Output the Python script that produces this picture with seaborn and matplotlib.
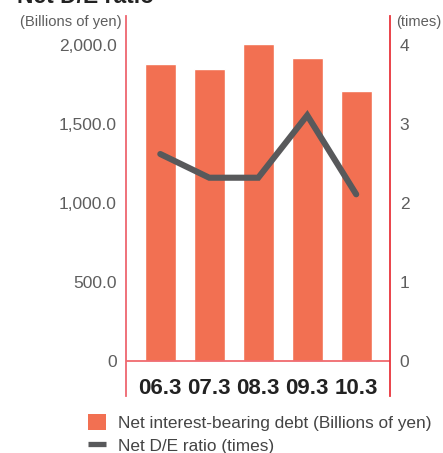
import matplotlib
matplotlib.use("Agg")
import matplotlib.pyplot as plt
import seaborn as sns
import pandas as pd
from matplotlib.patches import Patch
from matplotlib.lines import Line2D
from matplotlib.ticker import FuncFormatter

sns.set_style("white")
plt.rcParams['font.family'] = ['Liberation Sans', 'DejaVu Sans']

# Data
periods = ["06.3", "07.3", "08.3", "09.3", "10.3"]
debt = [1880, 1848, 2006, 1918, 1709]          # Billions of yen
de_ratio = [2.62, 2.32, 2.32, 3.11, 2.11]      # times
left_ticks = [0, 500, 1000, 1500, 2000]
right_ticks = [0, 1, 2, 3, 4]

bar_color = "#F27052"
line_color = "#58595B"
tick_color = "#5E5E5E"

df = pd.DataFrame({"period": periods, "debt": debt, "ratio": de_ratio})

W, H = 443, 453
fig = plt.figure(figsize=(W / 100, H / 100), dpi=100)
ax_l, ax_r, ax_t, ax_b = 126, 390, 16, 396
ax = fig.add_axes([ax_l / W, 1 - ax_b / H, (ax_r - ax_l) / W, (ax_b - ax_t) / H])

sns.barplot(data=df, x="period", y="debt", color=bar_color, width=0.63,
            saturation=1, ax=ax, zorder=2)

# y scale: 0 at px 361, 2000 at px 45
ppu = (361 - 45) / 2000.0
ylo = -(ax_b - 361) / ppu
yhi = 2000 + (45 - ax_t) / ppu
ax.set_ylim(ylo, yhi)
ax.set_xlim(-0.70, 4.69)

ax2 = ax.twinx()
sns.lineplot(x=list(range(len(periods))), y=de_ratio, color=line_color,
             linewidth=4.4, ax=ax2, zorder=3, solid_capstyle="round",
             solid_joinstyle="miter")
ax2.set_ylim(ylo / 500.0, yhi / 500.0)

ax.axhline(0, color="#F06A6E", linewidth=1.3, zorder=4)

for a in (ax, ax2):
    for s in ("top", "bottom"):
        a.spines[s].set_visible(False)
ax.spines["left"].set_color("#EE6670")
ax.spines["left"].set_linewidth(1.3)
ax.spines["right"].set_visible(False)
ax2.spines["left"].set_visible(False)
ax2.spines["right"].set_color("#E8343C")
ax2.spines["right"].set_linewidth(1.3)

ax.set_yticks(left_ticks)
ax.yaxis.set_major_formatter(FuncFormatter(lambda v, p: "0" if v == 0 else f"{v:,.1f}"))
ax.tick_params(axis="y", length=0, pad=6.5, labelsize=12.5, labelcolor=tick_color)
ax2.set_yticks(right_ticks)
ax2.set_yticklabels([str(t) for t in right_ticks])
ax2.tick_params(axis="y", length=0, pad=7, labelsize=12.5, labelcolor=tick_color)

ax.set_xlabel("")
ax.set_ylabel("")
ax2.set_ylabel("")
ax.set_xticks(range(len(periods)))
ax.set_xticklabels(periods, fontweight="bold", fontsize=16, color="#222222")
ax.tick_params(axis="x", length=0, pad=-13)
ax.grid(False)
ax2.grid(False)

fig.text(122 / W, 1 - 22 / H, "(Billions of yen)", ha="right", va="center",
         fontsize=10.6, color=tick_color)
fig.text(396 / W, 1 - 22 / H, "(times)", ha="left", va="center",
         fontsize=10.6, color=tick_color)
fig.text(17 / W, 1 - 3 / H, "Net D/E ratio", ha="left", va="baseline",
         fontsize=16.5, fontweight="bold", color="#222222")

handles = [Patch(facecolor=bar_color, edgecolor="none"),
           Line2D([0], [0], color=line_color, linewidth=3.8, solid_capstyle="butt")]
labels = ["Net interest-bearing debt (Billions of yen)", "Net D/E ratio (times)"]
fig.legend(handles, labels, loc="upper left", bbox_to_anchor=(88 / W, 1 - 414 / H),
           frameon=False, fontsize=12.4, handlelength=1.05, handleheight=1.05,
           handletextpad=0.7, labelspacing=0.38, borderpad=0, borderaxespad=0,
           labelcolor="#444444")

fig.savefig("out.png", dpi=100)
